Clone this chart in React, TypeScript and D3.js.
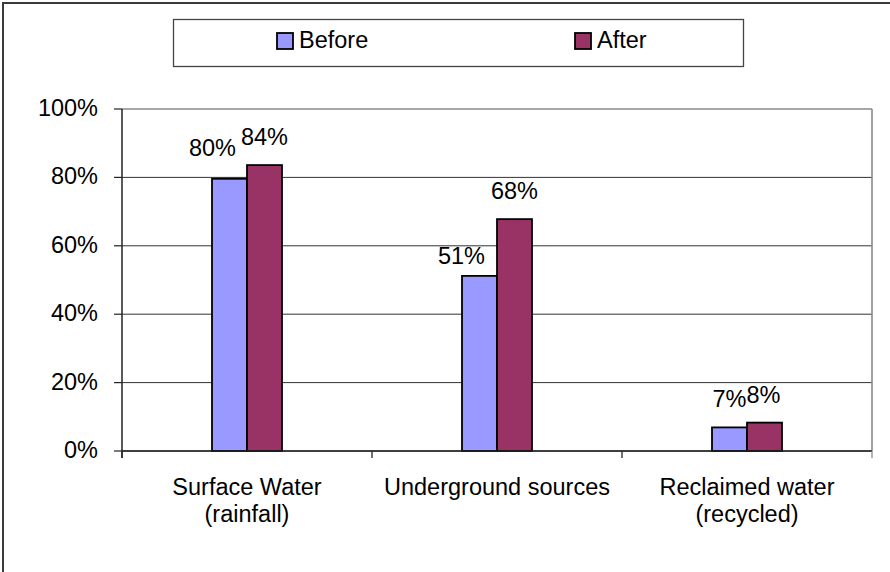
import React from "react";
import * as d3 from "d3";

const categories: string[][] = [
  ["Surface Water", "(rainfall)"],
  ["Underground sources"],
  ["Reclaimed water", "(recycled)"],
];
const seriesNames = ["Before", "After"];
const beforeValues = [0.796, 0.512, 0.069];
const afterValues = [0.836, 0.678, 0.083];
const yTicks = [0, 0.2, 0.4, 0.6, 0.8, 1.0];

const colors: Record<string, string> = { Before: "#9999FF", After: "#993366" };
// manual label nudges (layout only)
const labelNudge: Record<string, [number, number][]> = {
  Before: [[-17, -3], [-18, 8], [0, 0]],
  After: [[0, 0], [0, 0], [-1, 0]],
};

const W = 890;
const H = 572;
const FONT = "'Liberation Sans', Arial, sans-serif";
const FS = 23.5;

export default function App() {
  const plot = { left: 122, right: 872, top: 109, bottom: 451 };
  const y = d3.scaleLinear().domain([0, 1]).range([plot.bottom, plot.top]);
  const catKeys = categories.map((c) => c.join(" "));
  const x = d3.scaleBand<string>().domain(catKeys).range([plot.left, plot.right]).padding(0);
  const groupW = x.bandwidth() * 0.28;
  const inner = d3.scaleBand<string>().domain(seriesNames).range([0, groupW]).padding(0);
  const fmt = d3.format(".0%");
  const series: Record<string, number[]> = { Before: beforeValues, After: afterValues };

  const boundaries = [...catKeys.map((k) => x(k)!), plot.right];

  return (
    <svg
      width={W}
      height={H}
      style={{ position: "absolute", left: 0, top: 0, background: "#fff" }}
      fontFamily={FONT}
    >
      <rect x={0} y={0} width={W} height={H} fill="#fff" />
      {/* outer chart border */}
      <rect x={3} y={3} width={W + 20} height={H + 20} fill="none" stroke="#3a3a3a" strokeWidth={2} />

      {/* legend */}
      <rect x={173.5} y={19.5} width={570} height={47} fill="#fff" stroke="#444" strokeWidth={1.3} />
      {seriesNames.map((s, i) => {
        const sx = i === 0 ? 277 : 575;
        return (
          <g key={s}>
            <rect x={sx} y={33} width={16} height={16} fill={colors[s]} stroke="#000" strokeWidth={1.8} />
            <text x={sx + 22} y={47.5} fontSize={FS} fill="#000">
              {s}
            </text>
          </g>
        );
      })}

      {/* gridlines */}
      {yTicks.map((t) => (
        <line
          key={t}
          x1={plot.left}
          x2={plot.right}
          y1={y(t)}
          y2={y(t)}
          stroke={t === 1 ? "#8a8a8a" : "#333"}
          strokeWidth={t === 1 ? 1.6 : 1}
        />
      ))}
      {/* plot right border */}
      <line x1={plot.right} x2={plot.right} y1={plot.top} y2={plot.bottom} stroke="#8a8a8a" strokeWidth={1.6} />

      {/* bars */}
      {catKeys.map((k, ci) =>
        seriesNames.map((s) => {
          const v = series[s][ci];
          const bx = x(k)! + (x.bandwidth() - groupW) / 2 + inner(s)!;
          return (
            <rect
              key={k + s}
              x={bx}
              y={y(v)}
              width={inner.bandwidth()}
              height={plot.bottom - y(v)}
              fill={colors[s]}
              stroke="#000"
              strokeWidth={1.8}
            />
          );
        })
      )}

      {/* data labels */}
      {catKeys.map((k, ci) =>
        seriesNames.map((s) => {
          const v = series[s][ci];
          const cx = x(k)! + (x.bandwidth() - groupW) / 2 + inner(s)! + inner.bandwidth() / 2;
          const [dx, dy] = labelNudge[s][ci];
          return (
            <text
              key={"l" + k + s}
              x={cx + dx}
              y={y(v) - 20 + dy}
              fontSize={FS}
              textAnchor="middle"
              fill="#000"
            >
              {fmt(v)}
            </text>
          );
        })
      )}

      {/* y axis */}
      <line x1={plot.left} x2={plot.left} y1={plot.top} y2={plot.bottom + 7} stroke="#222" strokeWidth={1.5} />
      {yTicks.map((t) => (
        <g key={"yt" + t}>
          <line x1={plot.left - 8} x2={plot.left} y1={y(t)} y2={y(t)} stroke="#222" strokeWidth={1.2} />
          <text x={98} y={y(t) + 7} fontSize={FS} textAnchor="end" fill="#000">
            {fmt(t)}
          </text>
        </g>
      ))}

      {/* x axis */}
      <line x1={plot.left} x2={plot.right} y1={plot.bottom} y2={plot.bottom} stroke="#222" strokeWidth={1.5} />
      {boundaries.map((b, i) => (
        <line
          key={"xt" + i}
          x1={b}
          x2={b}
          y1={plot.bottom}
          y2={plot.bottom + 7}
          stroke={i === boundaries.length - 1 ? "#8a8a8a" : "#222"}
          strokeWidth={1.3}
        />
      ))}
      {categories.map((lines, ci) => (
        <text
          key={"c" + ci}
          x={x(catKeys[ci])! + x.bandwidth() / 2}
          y={495}
          fontSize={FS}
          textAnchor="middle"
          fill="#000"
        >
          {lines.map((ln, li) => (
            <tspan key={li} x={x(catKeys[ci])! + x.bandwidth() / 2} dy={li === 0 ? 0 : 27}>
              {ln}
            </tspan>
          ))}
        </text>
      ))}
    </svg>
  );
}
